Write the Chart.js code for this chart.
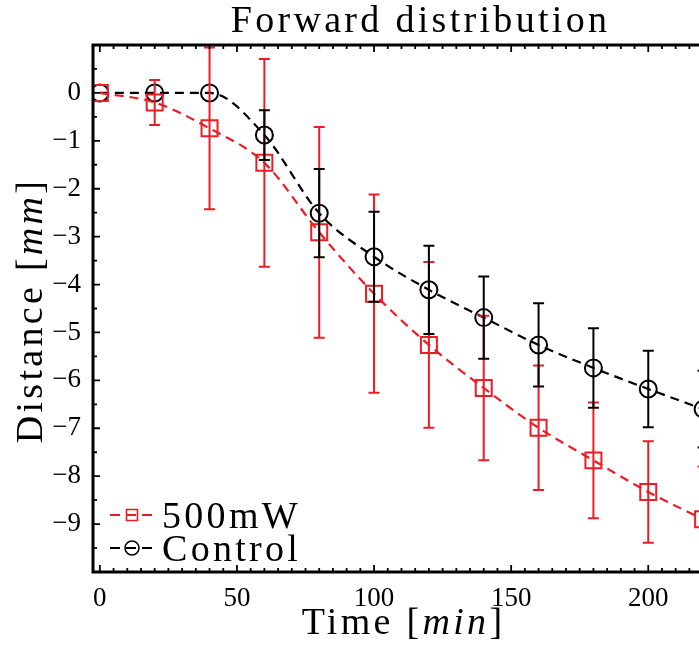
<!DOCTYPE html>
<html lang="en">
<head>
<meta charset="UTF-8">
<title>Forward distribution</title>
<script src="https://cdn.jsdelivr.net/npm/chart.js@4.4.0/dist/chart.umd.min.js"></script>
<style>
    html, body { margin: 0; padding: 0; background: #fff; overflow: hidden; }
    #wrap { width: 699px; height: 646px; overflow: hidden; }
</style>
</head>
<body>
<div id="wrap"><canvas id="fwd" width="760" height="646"></canvas></div>

<script>
// data (minutes, mm, +/- error)
const times = [0, 20, 40, 60, 80, 100, 120, 140, 160, 180, 200, 220];
const laserMean = [0, -0.2, -0.74, -1.46, -2.91, -4.19, -5.26, -6.16, -6.99, -7.67, -8.33, -8.9];
const laserErr = [0, 0.47, 1.69, 2.17, 2.2, 2.07, 1.73, 1.51, 1.3, 1.21, 1.06, 1.1];
const controlMean = [0, 0, 0, -0.88, -2.51, -3.42, -4.11, -4.69, -5.26, -5.74, -6.18, -6.6];
const controlErr = [0, 0, 0, 0.52, 0.92, 0.94, 0.92, 0.86, 0.87, 0.83, 0.8, 0.8];
const seriesNames = ['500mW', 'Control'];
const xTicks = [0, 50, 100, 150, 200];
const yTicks = [-9, -8, -7, -6, -5, -4, -3, -2, -1, 0];

const RED = '#ec1c24';
const SERIF = '"Liberation Serif", "Times New Roman", serif';
const BIG = 38;

function points(means) {
    return times.map((t, i) => ({ x: t, y: means[i] }));
}

// draws a label made of upright / italic pieces, letter spaced like the LaTeX original
function drawParts(ctx, parts, x, y, align) {
    ctx.save();
    ctx.letterSpacing = '3.3px';
    ctx.textBaseline = 'alphabetic';
    ctx.textAlign = 'left';
    let total = 0;
    parts.forEach(p => {
        ctx.font = (p.it ? 'italic ' : '') + BIG + 'px ' + SERIF;
        p.w = ctx.measureText(p.t).width;
        total += p.w;
    });
    let cx = align === 'center' ? x - total / 2 : x;
    parts.forEach(p => {
        ctx.font = (p.it ? 'italic ' : '') + BIG + 'px ' + SERIF;
        ctx.fillText(p.t, cx, y);
        cx += p.w;
    });
    ctx.restore();
}

function drawMarker(ctx, style, x, y, r, color) {
    ctx.strokeStyle = color;
    ctx.lineWidth = 1.6;
    ctx.setLineDash([]);
    ctx.beginPath();
    if (style === 'rect') ctx.rect(x - r, y - r, 2 * r, 2 * r);
    else ctx.arc(x, y, r, 0, Math.PI * 2);
    ctx.stroke();
}

const decorations = {
    id: 'decorations',
    afterDatasetsDraw(chart) {
        const ctx = chart.ctx;
        const xs = chart.scales.x, ys = chart.scales.y;
        chart.data.datasets.forEach(ds => {
            ctx.save();
            ctx.strokeStyle = ds.borderColor;
            ctx.lineWidth = 2;
            ds.data.forEach((p, i) => {
                const e = ds.errors[i];
                if (!e) return;
                const px = xs.getPixelForValue(p.x);
                const top = ys.getPixelForValue(p.y + e);
                const bot = ys.getPixelForValue(p.y - e);
                ctx.beginPath();
                ctx.moveTo(px, top); ctx.lineTo(px, bot);
                ctx.moveTo(px - 5.5, top); ctx.lineTo(px + 5.5, top);
                ctx.moveTo(px - 5.5, bot); ctx.lineTo(px + 5.5, bot);
                ctx.stroke();
            });
            ctx.restore();
        });
    },
    afterDraw(chart) {
        const ctx = chart.ctx;
        const a = chart.chartArea;
        const xs = chart.scales.x, ys = chart.scales.y;
        ctx.save();
        // axes box
        ctx.strokeStyle = '#000';
        ctx.lineWidth = 3;
        ctx.strokeRect(a.left, a.top, a.right - a.left, a.bottom - a.top);
        // inward ticks
        ctx.lineWidth = 1.8;
        ctx.beginPath();
        for (let v = 0; v <= xs.max; v += 5) {
            const px = xs.getPixelForValue(v);
            const len = v % 50 === 0 ? 7 : 4;
            ctx.moveTo(px, a.bottom); ctx.lineTo(px, a.bottom - len);
            ctx.moveTo(px, a.top); ctx.lineTo(px, a.top + len);
        }
        for (let v = ys.min; v <= ys.max; v += 0.5) {
            const py = ys.getPixelForValue(v);
            const len = Number.isInteger(v) ? 7 : 4;
            ctx.moveTo(a.left, py); ctx.lineTo(a.left + len, py);
            ctx.moveTo(a.right, py); ctx.lineTo(a.right - len, py);
        }
        ctx.stroke();

        // title and axis labels
        ctx.fillStyle = '#000';
        const mid = (a.left + a.right) / 2;
        drawParts(ctx, [{ t: 'Forward distribution' }], mid + 6, 32, 'center');
        drawParts(ctx, [{ t: 'Time [' }, { t: 'min', it: true }, { t: ']' }], mid - 11, 634, 'center');
        ctx.save();
        ctx.translate(42, (a.top + a.bottom) / 2 + 2);
        ctx.rotate(-Math.PI / 2);
        drawParts(ctx, [{ t: 'Distance [' }, { t: 'mm', it: true }, { t: ']' }], 0, 0, 'center');
        ctx.restore();

        // legend, bottom left inside the axes
        const rows = [515, 548];
        chart.data.datasets.forEach((ds, i) => {
            const y = rows[i];
            ctx.save();
            ctx.strokeStyle = ds.borderColor;
            ctx.lineWidth = 2;
            ctx.setLineDash([10, 6]);
            ctx.beginPath();
            ctx.moveTo(a.left + 17, y); ctx.lineTo(a.left + 62, y);
            ctx.stroke();
            drawMarker(ctx, ds.pointStyle, a.left + 39, y, ds.pointStyle === 'rect' ? 5.5 : 7, ds.borderColor);
            ctx.restore();
            drawParts(ctx, [{ t: ds.label }], a.left + 69, y + 13, 'left');
        });
        ctx.restore();
    }
};

new Chart(document.getElementById('fwd'), {
    type: 'line',
    data: {
        datasets: [{
            label: seriesNames[0],
            data: points(laserMean),
            errors: laserErr,
            borderColor: RED,
            borderWidth: 2.2,
            borderDash: [9, 6],
            pointStyle: 'rect',
            pointRadius: 11.3,
            pointBorderWidth: 2,
            pointBorderColor: RED,
            pointBackgroundColor: 'rgba(0,0,0,0)',
            cubicInterpolationMode: 'monotone',
            fill: false
        }, {
            label: seriesNames[1],
            data: points(controlMean),
            errors: controlErr,
            borderColor: '#000',
            borderWidth: 2.2,
            borderDash: [9, 6],
            pointStyle: 'circle',
            pointRadius: 8.5,
            pointBorderWidth: 2,
            pointBorderColor: '#000',
            pointBackgroundColor: 'rgba(0,0,0,0)',
            cubicInterpolationMode: 'monotone',
            fill: false
        }]
    },
    options: {
        responsive: false,
        animation: false,
        devicePixelRatio: 1,
        layout: { padding: { top: 45, right: 24, bottom: 0, left: 0 } },
        plugins: { legend: { display: false }, tooltip: { enabled: false }, title: { display: false } },
        scales: {
            x: {
                type: 'linear', min: -2.5, max: 232,
                grid: { display: false }, border: { display: false },
                afterBuildTicks: s => { s.ticks = xTicks.map(v => ({ value: v })); },
                afterFit: s => { s.height = 74; },
                ticks: { color: '#000', font: { family: SERIF, size: 27 }, padding: 3, maxRotation: 0 }
            },
            y: {
                type: 'linear', min: -10, max: 1,
                grid: { display: false }, border: { display: false },
                afterBuildTicks: s => { s.ticks = yTicks.map(v => ({ value: v })); },
                afterFit: s => { s.width = 93; },
                ticks: {
                    color: '#000', font: { family: SERIF, size: 27 }, padding: 4,
                    callback: v => v < 0 ? '\u2212' + Math.abs(v) : String(v)
                }
            }
        }
    },
    plugins: [decorations]
});
</script>
</body>
</html>
